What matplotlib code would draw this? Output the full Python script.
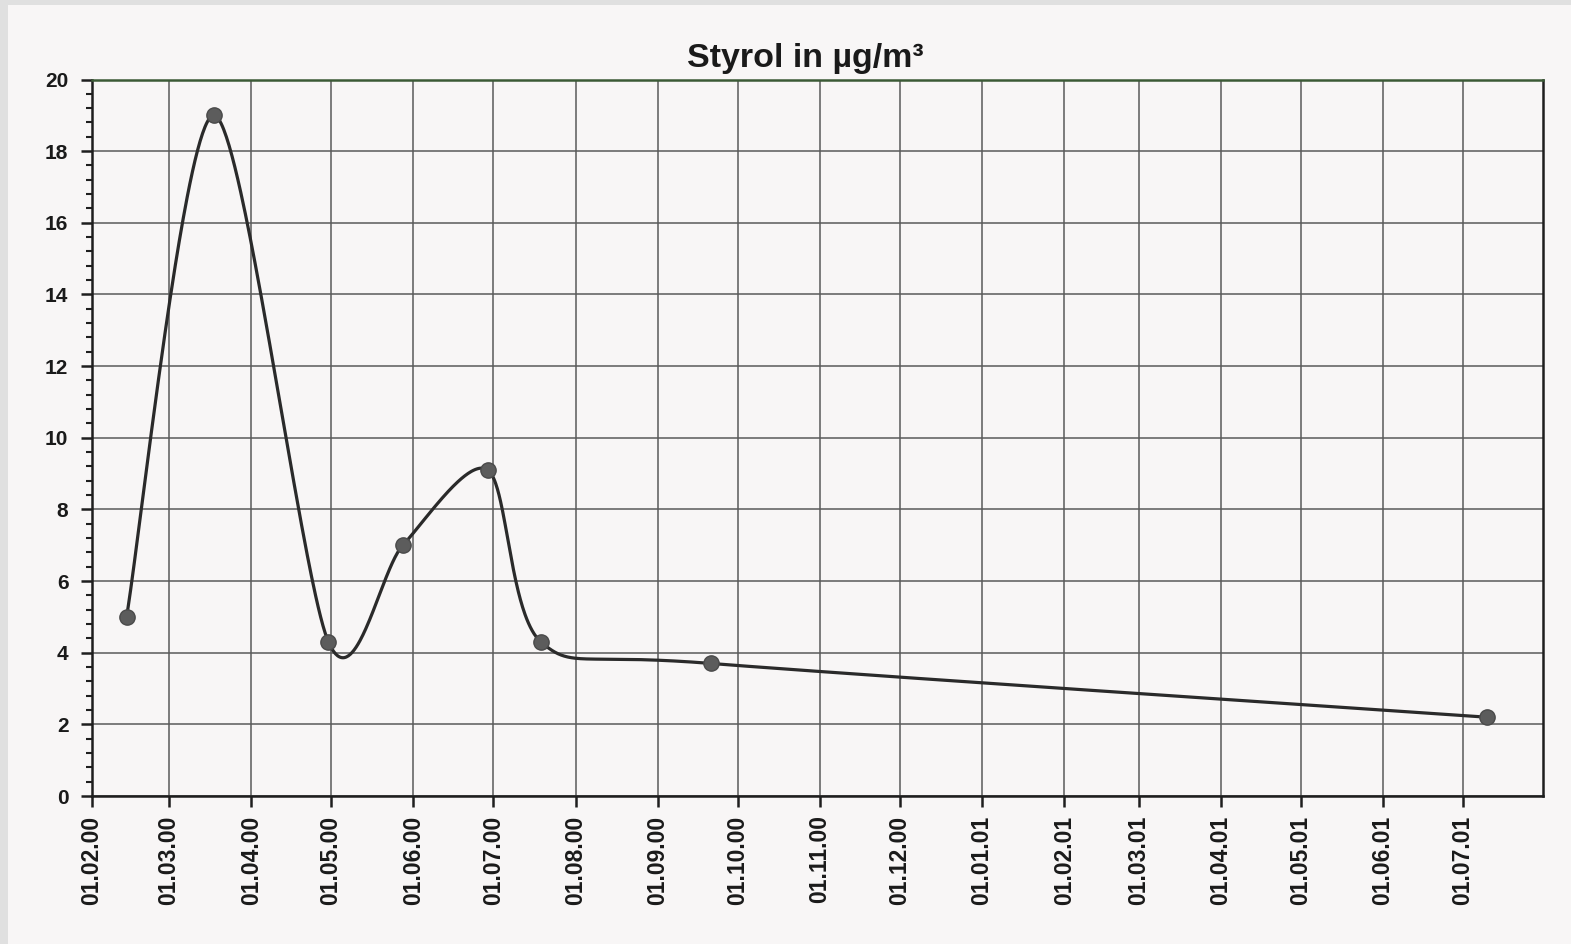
import datetime as dt

import numpy as np
import matplotlib
matplotlib.use("Agg")
import matplotlib.pyplot as plt
import matplotlib.dates as mdates
from matplotlib.patches import Rectangle
from matplotlib.ticker import MultipleLocator

# Measured styrene concentrations (µg/m³) at each sampling date
sample_dates = ["14.02.2000", "18.03.2000", "30.04.2000", "28.05.2000",
                "29.06.2000", "19.07.2000", "21.09.2000", "10.07.2001"]
styrol_values = [5.0, 19.0, 4.3, 7.0, 9.1, 4.3, 3.7, 2.2]

x_start = "01.02.2000"
x_end = "31.07.2001"
y_limits = [0, 20]
title_text = "Styrol in µg/m³"

FONT = "Liberation Sans"
SMOOTHING = 0.85


def parse(s):
    return dt.datetime.strptime(s, "%d.%m.%Y")


def smooth_curve(xs, ys, k=SMOOTHING, n=80):
    """Piecewise cubic Bezier through the points (Catmull-Rom style smoothing)."""
    pts = np.column_stack([xs, ys])
    parts = [pts[:1]]
    last = len(pts) - 1
    for i in range(last):
        p0 = pts[max(i - 1, 0)]
        p1 = pts[i]
        p2 = pts[i + 1]
        p3 = pts[min(i + 2, last)]
        c1 = p1 + k * (p2 - p0) / 6.0
        c2 = p2 - k * (p3 - p1) / 6.0
        t = np.linspace(0, 1, n)[1:, None]
        seg = ((1 - t) ** 3 * p1 + 3 * (1 - t) ** 2 * t * c1
               + 3 * (1 - t) * t ** 2 * c2 + t ** 3 * p2)
        parts.append(seg)
    return np.vstack(parts)


xs = mdates.date2num([parse(s) for s in sample_dates])
ys = np.array(styrol_values)
curve = smooth_curve(xs, ys)

W, H = 1571, 944
fig = plt.figure(figsize=(W / 100, H / 100), dpi=100)
fig.patch.set_facecolor("#f8f6f6")

# grey scanner margins along the top and left edges
fig.patches.append(Rectangle((0, 1 - 5 / H), 1, 5 / H, transform=fig.transFigure,
                             facecolor="#e0e0e0", edgecolor="none"))
fig.patches.append(Rectangle((0, 0), 8 / W, 1, transform=fig.transFigure,
                             facecolor="#e0e0e0", edgecolor="none"))

left, right = 92 / W, 1542.5 / W
bottom, top = 1 - 796 / H, 1 - 79.5 / H
ax = fig.add_axes([left, bottom, right - left, top - bottom])
ax.set_facecolor("#f8f6f6")

ax.plot(curve[:, 0], curve[:, 1], color="#2a2a2a", lw=2.3, solid_capstyle="round", zorder=3)
ax.plot(xs, ys, linestyle="none", marker="o", markersize=11,
        markerfacecolor="#5c5c5c", markeredgecolor="#4a4a4a", markeredgewidth=1.0, zorder=4)

ax.set_xlim(mdates.date2num(parse(x_start)), mdates.date2num(parse(x_end)))
ax.set_ylim(*y_limits)

ax.xaxis.set_major_locator(mdates.MonthLocator(bymonthday=1))
ax.xaxis.set_major_formatter(mdates.DateFormatter("%d.%m.%y"))
ax.yaxis.set_major_locator(MultipleLocator(2))
ax.yaxis.set_minor_locator(MultipleLocator(0.4))

ax.grid(True, which="major", color="#5a5a5a", lw=1.1, zorder=1)

for side in ("left", "bottom", "right"):
    ax.spines[side].set_color("#1e1e1e")
    ax.spines[side].set_linewidth(1.8)
ax.spines["top"].set_color("#3b5a36")
ax.spines["top"].set_linewidth(1.8)

ax.tick_params(axis="y", which="major", direction="out", length=8, width=1.8,
               color="#1e1e1e", pad=9)
ax.tick_params(axis="y", which="minor", direction="out", length=4.5, width=1.5,
               color="#1e1e1e")
ax.tick_params(axis="x", which="major", direction="out", length=8, width=1.8,
               color="#1e1e1e", pad=6)

for lab in ax.get_yticklabels():
    lab.set_fontfamily(FONT)
    lab.set_fontweight("bold")
    lab.set_fontsize(15)
    lab.set_color("#1a1a1a")
for lab in ax.get_xticklabels():
    lab.set_fontfamily(FONT)
    lab.set_fontweight("bold")
    lab.set_fontsize(16.5)
    lab.set_rotation(90)
    lab.set_color("#1a1a1a")

fig.text(805 / W, 1 - 67 / H, title_text, ha="center", va="baseline",
         fontfamily=FONT, fontweight="bold", fontsize=24.5, color="#1a1a1a")

fig.savefig("out.png", dpi=100, facecolor=fig.get_facecolor())
